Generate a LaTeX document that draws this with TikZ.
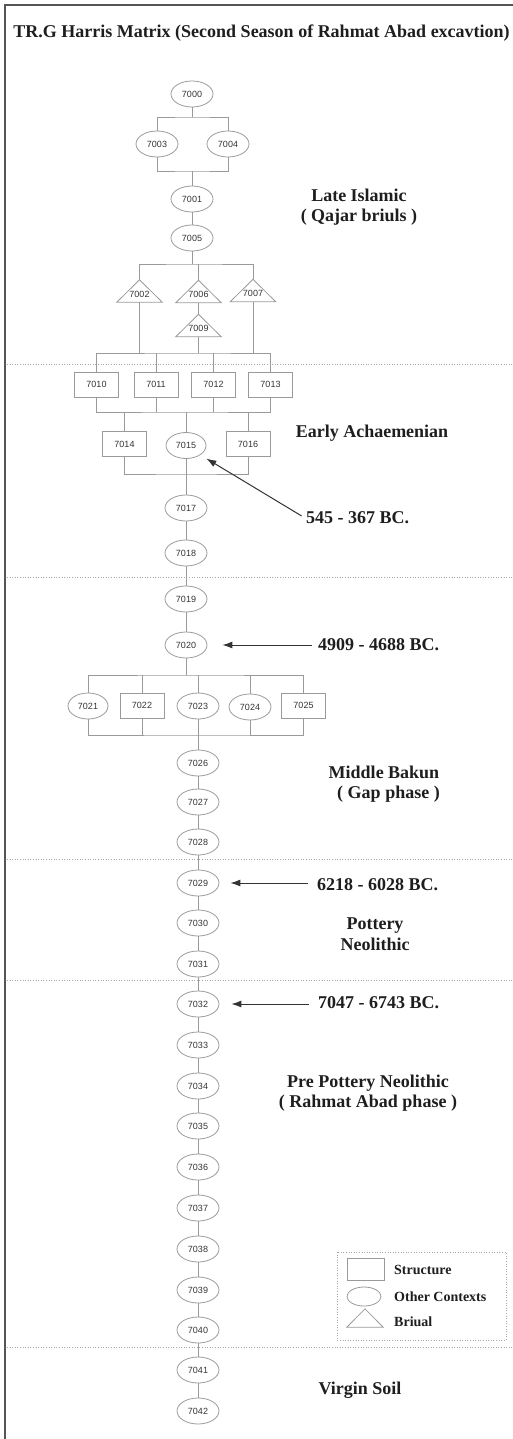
\documentclass[tikz,border=0pt]{standalone}
\usepackage{fontspec}
\setmainfont{Liberation Serif}
\newfontfamily\numfont{Liberation Sans}
\usetikzlibrary{arrows.meta,shapes.geometric}

\definecolor{linegray}{HTML}{9A9A9A}
\definecolor{numgray}{HTML}{333333}
\definecolor{textdark}{HTML}{1E1E1E}
\definecolor{dotgray}{HTML}{A8A8A8}
\definecolor{framegray}{HTML}{555555}

\tikzset{
  numtext/.style={font=\numfont\fontsize{9}{10}\selectfont, text=numgray},
  ctx/.style={ellipse, draw=linegray, line width=0.8pt, minimum width=42pt, minimum height=26pt, inner sep=0pt, numtext},
  struct/.style={rectangle, draw=linegray, line width=0.8pt, minimum width=44pt, minimum height=25pt, inner sep=0pt, numtext},
  burial/.style={rectangle, minimum width=45pt, minimum height=22pt, inner sep=0pt, text height=12.5pt, text depth=0pt, numtext},
  link/.style={draw=linegray, line width=0.8pt},
  phase/.style={draw=dotgray, line width=0.6pt, dotted},
  period/.style={font=\bfseries\fontsize{18}{20.5}\selectfont, text=textdark, align=center},
  date/.style={font=\bfseries\fontsize{18}{20}\selectfont, text=textdark, anchor=west, inner sep=1pt},
  datearrow/.style={draw=numgray, line width=1pt, -{Latex[length=10pt,width=7pt]}},
  legtext/.style={font=\bfseries\fontsize{14}{16}\selectfont, text=textdark, anchor=west, inner sep=0pt}
}

\begin{document}
\begin{tikzpicture}[x=1pt, y=-1pt]
    \useasboundingbox (0,0) rectangle (512,1439);
    % Frame and title
    \draw[framegray, line width=1.4pt] (5,1440) -- (5,5) -- (513,5);
    \node[font=\bfseries\fontsize{18}{20}\selectfont, text=textdark] (title) at (261.5,33) {TR.G Harris Matrix (Second Season of Rahmat Abad excavtion)};

    % Phase boundaries
    \foreach \y in {364, 577, 859, 980, 1347}
        \draw[phase] (7,\y) -- (512,\y);

    % Late Islamic
    \node[ctx] (n7000) at (192,94) {7000};
    \node[ctx] (n7003) at (157,144) {7003};
    \node[ctx] (n7004) at (228,144) {7004};
    \node[ctx] (n7001) at (192,199) {7001};
    \node[ctx] (n7005) at (192,238) {7005};
    \node[burial] (n7002) at (139.5,291) {7002};
    \node[burial] (n7006) at (198.5,291.5) {7006};
    \node[burial] (n7007) at (253,290.5) {7007};
    \node[burial] (n7009) at (198.5,325.5) {7009};
    \foreach \t in {n7002, n7006, n7007, n7009}
        \draw[link] (\t.north) -- (\t.south west) -- (\t.south east) -- cycle;

    \coordinate (j1) at (192,117);
    \coordinate (j2) at (192,171);
    \coordinate (j3) at (192,264);
    \coordinate (j4) at (192,353);
    \draw[link] (n7000) -- (j1);
    \draw[link] (n7003.north) |- (j1) -| (n7004.north);
    \draw[link] (n7003.south) |- (j2) -| (n7004.south);
    \draw[link] (j2) -- (n7001);
    \draw[link] (n7001) -- (n7005);
    \draw[link] (n7005) -- (j3);
    \draw[link] (n7002.north) |- (j3) -| (n7007.north);
    \draw[link] (n7006.north) -- (n7006.north |- j3);
    \draw[link] (n7006.south) -- (n7009.north);

    % Early Achaemenian
    \node[struct] (n7010) at (96.5,384.5) {7010};
    \node[struct] (n7011) at (156,384.5) {7011};
    \node[struct] (n7012) at (213.5,384.5) {7012};
    \node[struct] (n7013) at (270.5,384.5) {7013};
    \node[struct] (n7014) at (124.5,444) {7014};
    \node[ctx, minimum width=40pt] (n7015) at (186,445.5) {7015};
    \node[struct] (n7016) at (248,444) {7016};
    \node[ctx] (n7017) at (186,508) {7017};
    \node[ctx] (n7018) at (186,553) {7018};

    \coordinate (j5) at (186,412);
    \coordinate (j6) at (186,474);
    \draw[link] (n7010.north) |- (j4) -| (n7013.north);
    \foreach \t in {n7011, n7012, n7002, n7009, n7007}
        \draw[link] (\t.center |- j4) -- (\t);
    \draw[link] (n7010.south) |- (j5) -| (n7013.south);
    \foreach \t in {n7011, n7012, n7014, n7015, n7016}
        \draw[link] (\t.center |- j5) -- (\t);
    \draw[link] (n7014.south) |- (j6) -| (n7016.south);
    \draw[link] (n7015) -- (n7017);

    % Middle Bakun
    \node[ctx] (n7019) at (186,599) {7019};
    \node[ctx] (n7020) at (186,645) {7020};
    \node[ctx, minimum width=40pt] (n7021) at (88,706) {7021};
    \node[struct] (n7022) at (142,705.5) {7022};
    \node[ctx] (n7023) at (198,706) {7023};
    \node[ctx] (n7024) at (250,707) {7024};
    \node[struct] (n7025) at (303.5,705.5) {7025};

    \coordinate (j7) at (186,675);
    \coordinate (j8) at (198,735);
    \draw[link] (n7020) -- (j7);
    \draw[link] (n7021.north) |- (j7) -| (n7025.north);
    \foreach \t in {n7022, n7023, n7024}
        \draw[link] (\t.center |- j7) -- (\t);
    \draw[link] (n7021.south) |- (j8) -| (n7025.south);
    \foreach \t in {n7022, n7024}
        \draw[link] (\t.center |- j8) -- (\t);

    % Single column down to virgin soil
    \foreach \n/\y in {7026/763, 7027/802, 7028/842, 7029/883, 7030/923, 7031/964,
                       7032/1004, 7033/1045, 7034/1086, 7035/1126, 7036/1167, 7037/1208,
                       7038/1249, 7039/1290, 7040/1330, 7041/1370, 7042/1411}
        \node[ctx] (n\n) at (198,\y) {\n};
    \draw[link] (n7023) -- (n7026);
    \foreach \a/\b in {7017/7018, 7018/7019, 7019/7020, 7026/7027, 7027/7028,
                       7028/7029, 7029/7030, 7030/7031, 7031/7032, 7032/7033,
                       7033/7034, 7034/7035, 7035/7036, 7036/7037, 7037/7038,
                       7038/7039, 7039/7040, 7040/7041, 7041/7042}
        \draw[link] (n\a) -- (n\b);

    % Periods
    \node[period] (pIslamic) at (359,207) {Late Islamic\\( Qajar briuls )};
    \node[period] (pAchaem) at (372,433) {Early Achaemenian};
    \node[period] (pBakun) at (384,784) {Middle Bakun\\\ \ ( Gap phase )};
    \node[period] (pPottery) at (375,934) {Pottery\\Neolithic};
    \node[period] (pPrePot) at (368,1093) {Pre Pottery Neolithic\\( Rahmat Abad phase )};
    \node[period] (pVirgin) at (360,1390) {Virgin Soil};

    % Dates
    \node[date] (d1) at (305,518) {545 - 367 BC.};
    \node[date] (d2) at (317,645) {4909 - 4688 BC.};
    \node[date] (d3) at (316,885) {6218 - 6028 BC.};
    \node[date] (d4) at (317,1003) {7047 - 6743 BC.};
    \draw[datearrow, shorten <=4pt, shorten >=7pt] (d1.west) -- (n7015.south east);
    \draw[datearrow, shorten <=5pt, shorten >=15pt] (d2.west |- n7020.east) -- (n7020.east);
    \draw[datearrow, shorten <=8pt, shorten >=11pt] (d3.west |- n7029.east) -- (n7029.east);
    \draw[datearrow, shorten <=8pt, shorten >=12pt] (d4.west |- n7032.east) -- (n7032.east);

    % Legend
    \draw[phase] (337,1252) rectangle (506,1340);
    \node[struct, minimum width=37pt, minimum height=22pt] (kStruct) at (365.5,1269) {};
    \node[ctx, minimum width=34pt, minimum height=19pt] (kCtx) at (364,1296.5) {};
    \node[burial, minimum width=36pt, minimum height=18pt] (kBurial) at (365,1318) {};
    \draw[link] (kBurial.north) -- (kBurial.south west) -- (kBurial.south east) -- cycle;
    \node[legtext] (tStruct) at (394,1270) {Structure};
    \node[legtext] (tCtx) at (394,1297) {Other Contexts};
    \node[legtext] (tBurial) at (394,1322) {Briual};
\end{tikzpicture}
\end{document}
